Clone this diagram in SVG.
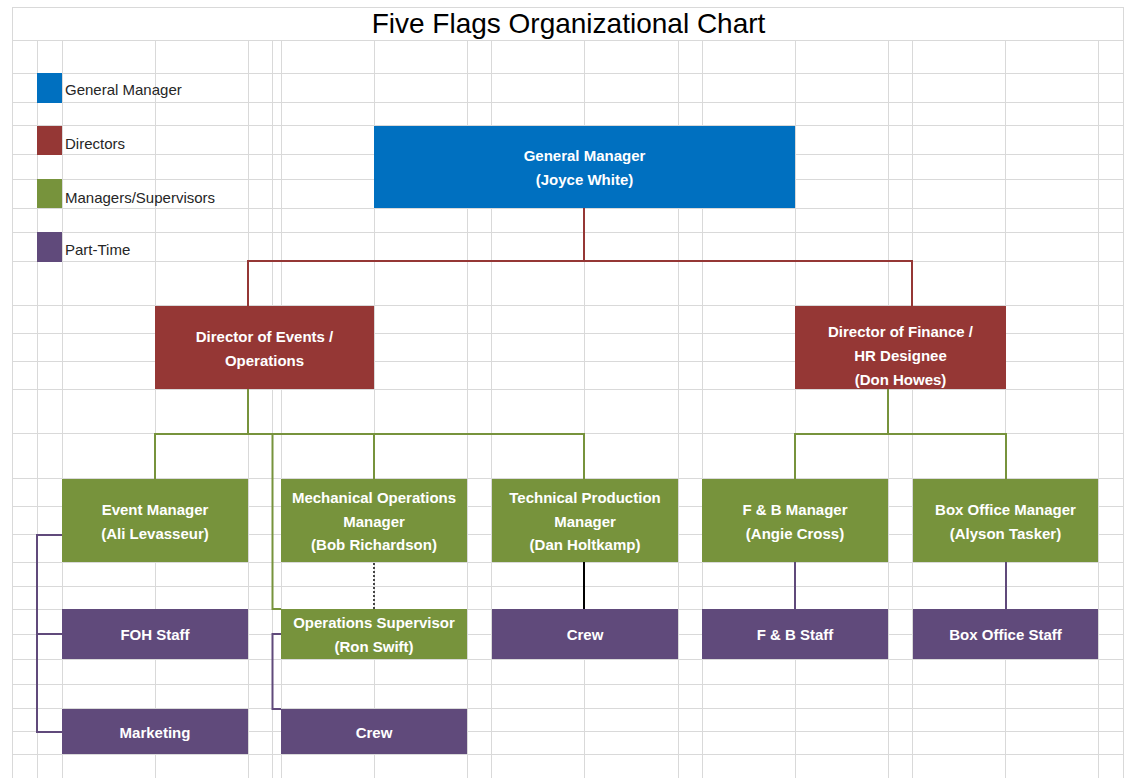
<svg xmlns="http://www.w3.org/2000/svg" width="1131" height="778" viewBox="0 0 1131 778">
<style>
.grid line{stroke:#D9D9D9;stroke-width:1}
.title{font-family:"Liberation Sans",Arial,sans-serif;font-size:28px;fill:#000;text-anchor:middle}
.leg{font-family:"Liberation Sans",Arial,sans-serif;font-size:15px;fill:#262626}
.lbl{font-family:"Liberation Sans",Arial,sans-serif;font-size:15px;font-weight:bold;fill:#fff;text-anchor:middle}
.gm{fill:#0070C0}.dir{fill:#953735}.mgr{fill:#77933C}.pt{fill:#604A7B}
.conn path{fill:none;stroke-width:2}
.cr{stroke:#953735}.cg{stroke:#77933C}.cp{stroke:#604A7B}.ck{stroke:#000}
.cd{stroke:#444;stroke-width:1.5;stroke-dasharray:2 2}
</style>
<rect x="0" y="0" width="1131" height="778" fill="#fff"/>
<g class="grid">
<line x1="13" y1="7.5" x2="1123" y2="7.5"/>
<line x1="13" y1="40.5" x2="1123" y2="40.5"/>
<line x1="13" y1="73.5" x2="1123" y2="73.5"/>
<line x1="13" y1="102.5" x2="1123" y2="102.5"/>
<line x1="13" y1="125.5" x2="1123" y2="125.5"/>
<line x1="13" y1="154.5" x2="1123" y2="154.5"/>
<line x1="13" y1="179.5" x2="1123" y2="179.5"/>
<line x1="13" y1="208.5" x2="1123" y2="208.5"/>
<line x1="13" y1="232.5" x2="1123" y2="232.5"/>
<line x1="13" y1="261.5" x2="1123" y2="261.5"/>
<line x1="13" y1="305.5" x2="1123" y2="305.5"/>
<line x1="13" y1="333.5" x2="1123" y2="333.5"/>
<line x1="13" y1="361.5" x2="1123" y2="361.5"/>
<line x1="13" y1="389.5" x2="1123" y2="389.5"/>
<line x1="13" y1="433.5" x2="1123" y2="433.5"/>
<line x1="13" y1="478.5" x2="1123" y2="478.5"/>
<line x1="13" y1="506.5" x2="1123" y2="506.5"/>
<line x1="13" y1="534.5" x2="1123" y2="534.5"/>
<line x1="13" y1="562.5" x2="1123" y2="562.5"/>
<line x1="13" y1="586.5" x2="1123" y2="586.5"/>
<line x1="13" y1="609.5" x2="1123" y2="609.5"/>
<line x1="13" y1="634.5" x2="1123" y2="634.5"/>
<line x1="13" y1="659.5" x2="1123" y2="659.5"/>
<line x1="13" y1="684.5" x2="1123" y2="684.5"/>
<line x1="13" y1="708.5" x2="1123" y2="708.5"/>
<line x1="13" y1="731.5" x2="1123" y2="731.5"/>
<line x1="13" y1="754.5" x2="1123" y2="754.5"/>
<line x1="12.5" y1="7" x2="12.5" y2="778"/>
<line x1="1123.5" y1="7" x2="1123.5" y2="778"/>
<line x1="37.5" y1="41" x2="37.5" y2="778"/>
<line x1="62.5" y1="41" x2="62.5" y2="778"/>
<line x1="155.5" y1="41" x2="155.5" y2="778"/>
<line x1="248.5" y1="41" x2="248.5" y2="778"/>
<line x1="272.5" y1="41" x2="272.5" y2="778"/>
<line x1="281.5" y1="41" x2="281.5" y2="778"/>
<line x1="374.5" y1="41" x2="374.5" y2="778"/>
<line x1="467.5" y1="41" x2="467.5" y2="778"/>
<line x1="491.5" y1="41" x2="491.5" y2="778"/>
<line x1="584.5" y1="41" x2="584.5" y2="778"/>
<line x1="678.5" y1="41" x2="678.5" y2="778"/>
<line x1="702.5" y1="41" x2="702.5" y2="778"/>
<line x1="795.5" y1="41" x2="795.5" y2="778"/>
<line x1="888.5" y1="41" x2="888.5" y2="778"/>
<line x1="912.5" y1="41" x2="912.5" y2="778"/>
<line x1="1005.5" y1="41" x2="1005.5" y2="778"/>
<line x1="1098.5" y1="41" x2="1098.5" y2="778"/>
</g>
<text class="title" x="568.5" y="33">Five Flags Organizational Chart</text>
<g id="legend">
<rect class="gm" x="37" y="73" width="25" height="30"/>
<text class="leg" x="65" y="94.5">General Manager</text>
<rect class="dir" x="37" y="126" width="25" height="29"/>
<text class="leg" x="65" y="148.5">Directors</text>
<rect class="mgr" x="37" y="179" width="25" height="29"/>
<text class="leg" x="65" y="202.5">Managers/Supervisors</text>
<rect class="pt" x="37" y="232" width="25" height="30"/>
<text class="leg" x="65" y="254.5">Part-Time</text>
</g>
<g class="conn" id="connectors">
<path class="cr" d="M584,208V261M248,306V261H912V306"/>
<path class="cg" d="M248,389V434M155,479V434H584V479M374,434V479M272.5,434V609H281"/>
<path class="cg" d="M888,389V434M795,479V434H1006V479"/>
<path class="cp" d="M62,535H37V732H62M37,634H62"/>
<path class="cp" d="M281,634H272.5V709H281"/>
<path class="cp" d="M795,562V609M1006,562V609"/>
<path class="ck" d="M584,562V609"/>
<path class="cd" d="M374,563V609"/>
</g>
<g id="gm">
<rect class="gm" x="374" y="126" width="421" height="82"/>
<text class="lbl" x="584.5" y="160.5">General Manager</text>
<text class="lbl" x="584.5" y="184.5">(Joyce White)</text>
</g>
<g id="dir-events">
<rect class="dir" x="155" y="306" width="219" height="83"/>
<text class="lbl" x="264.5" y="342">Director of Events /</text>
<text class="lbl" x="264.5" y="365.5">Operations</text>
</g>
<g id="dir-finance">
<rect class="dir" x="795" y="306" width="211" height="83"/>
<text class="lbl" x="900.5" y="337">Director of Finance /</text>
<text class="lbl" x="900.5" y="360.5">HR Designee</text>
<text class="lbl" x="900.5" y="384.5">(Don Howes)</text>
</g>
<g id="event-mgr">
<rect class="mgr" x="62" y="479" width="186" height="83"/>
<text class="lbl" x="155" y="514.5">Event Manager</text>
<text class="lbl" x="155" y="538.5">(Ali Levasseur)</text>
</g>
<g id="mech-ops">
<rect class="mgr" x="281" y="479" width="186" height="83"/>
<text class="lbl" x="374" y="502.5">Mechanical Operations</text>
<text class="lbl" x="374" y="526.5">Manager</text>
<text class="lbl" x="374" y="550">(Bob Richardson)</text>
</g>
<g id="tech-prod">
<rect class="mgr" x="492" y="479" width="186" height="83"/>
<text class="lbl" x="585" y="502.5">Technical Production</text>
<text class="lbl" x="585" y="526.5">Manager</text>
<text class="lbl" x="585" y="550">(Dan Holtkamp)</text>
</g>
<g id="fb-mgr">
<rect class="mgr" x="702" y="479" width="186" height="83"/>
<text class="lbl" x="795" y="514.5">F &amp; B Manager</text>
<text class="lbl" x="795" y="538.5">(Angie Cross)</text>
</g>
<g id="box-mgr">
<rect class="mgr" x="913" y="479" width="185" height="83"/>
<text class="lbl" x="1005.5" y="514.5">Box Office Manager</text>
<text class="lbl" x="1005.5" y="538.5">(Alyson Tasker)</text>
</g>
<g id="foh-staff">
<rect class="pt" x="62" y="609" width="186" height="50"/>
<text class="lbl" x="155" y="639.5">FOH Staff</text>
</g>
<g id="ops-sup">
<rect class="mgr" x="281" y="609" width="186" height="50"/>
<text class="lbl" x="374" y="628">Operations Supervisor</text>
<text class="lbl" x="374" y="651.5">(Ron Swift)</text>
</g>
<g id="crew-tech">
<rect class="pt" x="492" y="609" width="186" height="50"/>
<text class="lbl" x="585" y="639.5">Crew</text>
</g>
<g id="fb-staff">
<rect class="pt" x="702" y="609" width="186" height="50"/>
<text class="lbl" x="795" y="639.5">F &amp; B Staff</text>
</g>
<g id="box-staff">
<rect class="pt" x="913" y="609" width="185" height="50"/>
<text class="lbl" x="1005.5" y="639.5">Box Office Staff</text>
</g>
<g id="marketing">
<rect class="pt" x="62" y="709" width="186" height="45"/>
<text class="lbl" x="155" y="737.5">Marketing</text>
</g>
<g id="crew-ops">
<rect class="pt" x="281" y="709" width="186" height="45"/>
<text class="lbl" x="374" y="737.5">Crew</text>
</g>
</svg>
